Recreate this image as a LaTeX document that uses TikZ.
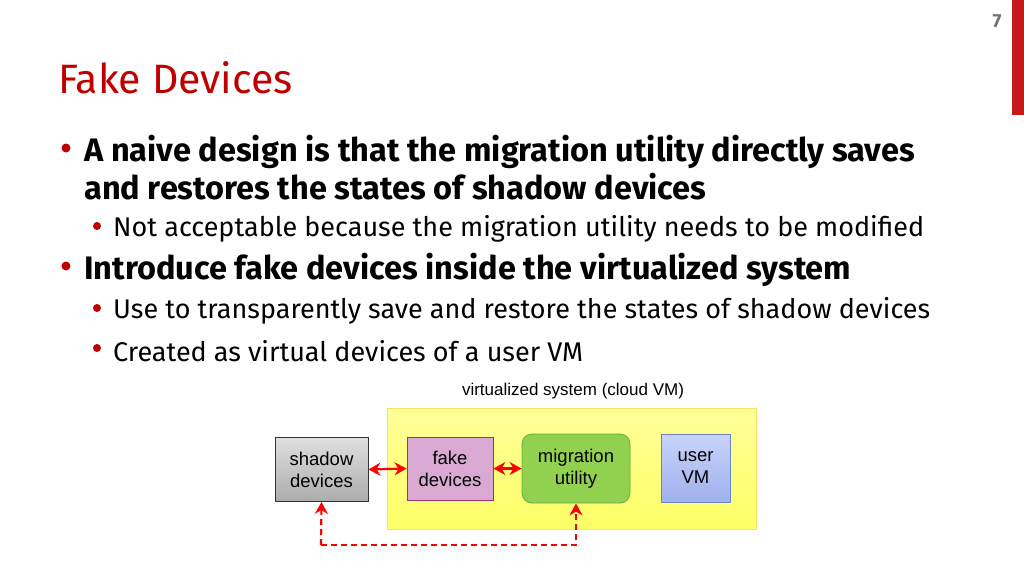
\documentclass[tikz,border=0pt]{standalone}
\usepackage{fontspec}
\setmainfont{Fira Sans}
\newfontfamily\arialf{Liberation Sans}
\usetikzlibrary{arrows.meta}
\definecolor{titlered}{HTML}{C00000}
\definecolor{arrred}{HTML}{FF0000}
\tikzset{
  box/.style={draw, line width=0.8pt, minimum height=64pt, align=center, font=\arialf\fontsize{18.5}{22}\selectfont, inner sep=2pt},
  arr/.style={arrred, line width=2.2pt, {Stealth[length=12pt,width=13pt]}-{Stealth[length=12pt,width=13pt]}},
  darr/.style={arrred, line width=2.2pt, dash pattern=on 6pt off 4pt, -{Stealth[length=12pt,width=13pt]}},
  bul/.style={anchor=west, inner sep=0pt},
  dot/.style={circle, fill=titlered, inner sep=0pt}
}
\begin{document}
\begin{tikzpicture}[x=1pt,y=-1pt]
\useasboundingbox (0,0) rectangle (1024,576);
\fill[white] (0,0) rectangle (1024,576);
\fill[titlered!90!white] (1012,0) rectangle (1024,115);
\node[text=gray!90!black, font=\bfseries\fontsize{19}{22}\selectfont] (pg) at (997,21) {7};
\node[anchor=west, text=titlered, inner sep=0pt, font=\fontsize{41}{44}\selectfont] (title) at (58,78) {Fake Devices};
% bullets
\node[dot, minimum size=9pt] (b1) at (66,148) {};
\node[bul, font=\bfseries\fontsize{32.5}{36}\selectfont] (t1) at (84,152) {A naive design is that the migration utility directly saves};
\node[bul, font=\bfseries\fontsize{32.5}{36}\selectfont] (t1b) at (84,187) {and restores the states of shadow devices};
\node[dot, minimum size=8pt] (b2) at (97,226) {};
\node[bul, font=\fontsize{27}{30}\selectfont] (t2) at (113,229) {Not acceptable because the migration utility needs to be modified};
\node[dot, minimum size=9pt] (b3) at (66,266) {};
\node[bul, font=\bfseries\fontsize{32.5}{36}\selectfont] (t3) at (84,270) {Introduce fake devices inside the virtualized system};
\node[dot, minimum size=8pt] (b4) at (97,308) {};
\node[bul, font=\fontsize{27}{30}\selectfont] (t4) at (113,311) {Use to transparently save and restore the states of shadow devices};
\node[dot, minimum size=8pt] (b5) at (97,348) {};
\node[bul, font=\fontsize{27}{30}\selectfont] (t5) at (113,351) {Created as virtual devices of a user VM};
% diagram
\node[font=\arialf\fontsize{17}{20}\selectfont] (vlab) at (573,391) {virtualized system (cloud VM)};
\node[draw=yellow!70!orange!60, line width=1pt, top color=yellow!40, bottom color=yellow!60, minimum width=369pt, minimum height=121pt] (vm) at (571.5,468.5) {};
\node[box, minimum width=93pt, top color=gray!25, bottom color=gray!65, draw=black!80] (sh) at (321.5,469.5) {shadow\\devices};
\node[box, minimum width=86pt, minimum height=63pt, fill={rgb,255:red,217;green,169;blue,212}, draw={rgb,255:red,160;green,48;blue,111}] (fk) at (450,468.5) {fake\\devices};
\node[box, minimum width=108pt, minimum height=69pt, rounded corners=10pt, fill={rgb,255:red,146;green,208;blue,80}, draw={rgb,255:red,92;green,176;blue,64}] (mu) at (576,468.5) {migration\\utility};
\node[box, minimum width=69pt, minimum height=68pt, top color={rgb,255:red,200;green,212;blue,250}, bottom color={rgb,255:red,160;green,176;blue,236}, draw={rgb,255:red,108;green,133;blue,200}] (uv) at (695.5,468) {user\\VM};
\draw[arr] (sh.east) -- (fk.west);
\draw[arr] (fk.east) -- (mu.west);
\coordinate (d1) at (321,545);
\coordinate (d2) at (576,545);
\draw[darr] (d1) -- (sh.south);
\draw[darr] (d1) -- (d2) -- (mu.south);
\end{tikzpicture}
\end{document}
